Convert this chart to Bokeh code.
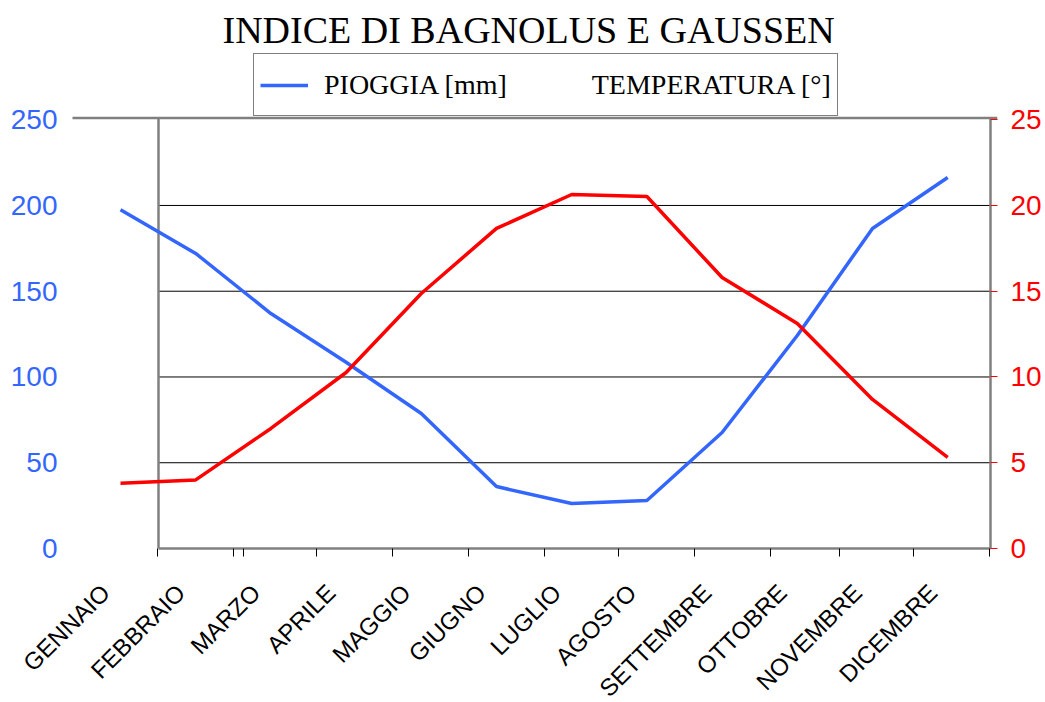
import math
from bokeh.plotting import figure
from bokeh.models import (Range1d, LinearAxis, FixedTicker, Legend, LegendItem,
                          ColumnDataSource)
from bokeh.embed import file_html
from bokeh.resources import INLINE

# ---- data ----
months = ["GENNAIO", "FEBBRAIO", "MARZO", "APRILE", "MAGGIO", "GIUGNO",
          "LUGLIO", "AGOSTO", "SETTEMBRE", "OTTOBRE", "NOVEMBRE", "DICEMBRE"]
pioggia = [197.5, 172, 137, 108.6, 78.7, 36.1, 26.2, 28, 67.6, 124.2, 186.6, 216.3]
temperatura = [3.8, 4.0, 7.0, 10.26, 14.87, 18.66, 20.64, 20.52, 15.8, 13.12, 8.69, 5.31]
rain_ticks = [0, 50, 100, 150, 200, 250]
temp_ticks = [0, 5, 10, 15, 20, 25]
grid_vals = [50, 100, 150, 200]
xpos = list(range(len(months)))

BLUE = "#3366FF"
RED = "#FF0000"
GRAY = "#808080"

# ---- layout helpers (page pixels -> data units) ----
PX0, PXU = 120.0, 75.2
Y0, YU = 548.0, 1.7152


def px2x(px):
    return (px - PX0) / PXU


def py2y(py):
    return (Y0 - py) / YU


tick_px = [157, 233, 243, 316, 392, 468, 544, 618, 694, 770, 839, 913, 989]

FL, FR, FT, FB = 10, 997, 50, 702
W, H = 1045, 702

p = figure(width=W, height=H, output_backend="svg", toolbar_location=None,
           x_range=Range1d(px2x(FL), px2x(FR)),
           y_range=Range1d(py2y(FB), py2y(FT)),
           min_border_left=FL, min_border_right=W - FR, min_border_top=FT,
           min_border_bottom=0,
           title="INDICE DI BAGNOLUS E GAUSSEN")
p.extra_y_ranges = {"temp": Range1d(py2y(FB) / 10.0, py2y(FT) / 10.0)}
p.outline_line_color = None
p.xgrid.visible = False
p.ygrid.visible = False
p.xaxis.visible = False
p.background_fill_color = "white"
p.border_fill_color = "white"

p.title.align = "left"
p.title.offset = 222 - FL
p.title.text_font = "Liberation Serif"
p.title.text_font_size = "38px"
p.title.text_font_style = "normal"
p.title.text_color = "black"
p.title.standoff = 0

# left axis (labels pulled in so that they end at x = 57)
ya = p.yaxis[0]
ya.ticker = FixedTicker(ticks=rain_ticks)
ya.axis_line_color = None
ya.major_tick_line_color = None
ya.major_tick_in = 0
ya.major_tick_out = 0
ya.minor_tick_line_color = None
ya.major_label_text_color = BLUE
ya.major_label_text_font = "Liberation Sans"
ya.major_label_text_font_size = "28px"
ya.major_label_standoff = FL - 57

# right axis
ra = LinearAxis(y_range_name="temp", ticker=FixedTicker(ticks=temp_ticks))
ra.axis_line_color = None
ra.major_tick_line_color = RED
ra.major_tick_in = 7
ra.major_tick_out = 0
ra.minor_tick_line_color = None
ra.major_label_text_color = RED
ra.major_label_text_font = "Liberation Sans"
ra.major_label_text_font_size = "28px"
ra.major_label_standoff = 13
p.add_layout(ra, "right")

# grid lines and frame
xl, xr = px2x(158), px2x(990)
p.segment(x0=xl, x1=xr, y0=grid_vals, y1=grid_vals, line_color="black", line_width=1)
ytop = py2y(117.5)
p.segment(x0=[xl, xr, xl, px2x(72)], x1=[xl, xr, xr, px2x(FR)],
          y0=[0, 0, 0, ytop], y1=[ytop, ytop, 0, ytop],
          line_color=GRAY, line_width=2.5)
# small category-axis ticks
tx = [px2x(v) for v in tick_px]
p.segment(x0=tx, x1=tx, y0=0, y1=py2y(556), line_color="black", line_width=1)

# category labels
lab_src = ColumnDataSource(dict(x=xpos, y=[py2y(588)] * len(xpos), text=months))
p.text(x="x", y="y", text="text", source=lab_src, x_offset=-15,
       angle=math.pi / 4, text_align="right", text_baseline="middle",
       text_font={"value": "Liberation Sans"}, text_font_size="24px",
       text_color="black")

# series
rain = p.line(xpos, pioggia, line_color=BLUE, line_width=3.5)
temp = p.line(xpos, temperatura, line_color=RED, line_width=3.5, y_range_name="temp")
temp_leg = p.line(xpos, temperatura, line_color=RED, line_alpha=0, line_width=3.5,
                  y_range_name="temp")

legend = Legend(items=[LegendItem(label="PIOGGIA [mm]", renderers=[rain]),
                       LegendItem(label="TEMPERATURA [°]", renderers=[temp_leg])],
                location=(253 - FL, FB - 116), orientation="horizontal",
                glyph_width=48, glyph_height=20, label_standoff=16, spacing=21,
                padding=6, margin=0, label_height=49,
                label_text_font="Liberation Serif", label_text_font_size="28px",
                label_text_color="black",
                border_line_color="black", border_line_width=1,
                background_fill_color="white", background_fill_alpha=1)
p.add_layout(legend)

open("out.html", "w").write(file_html(p, INLINE))
